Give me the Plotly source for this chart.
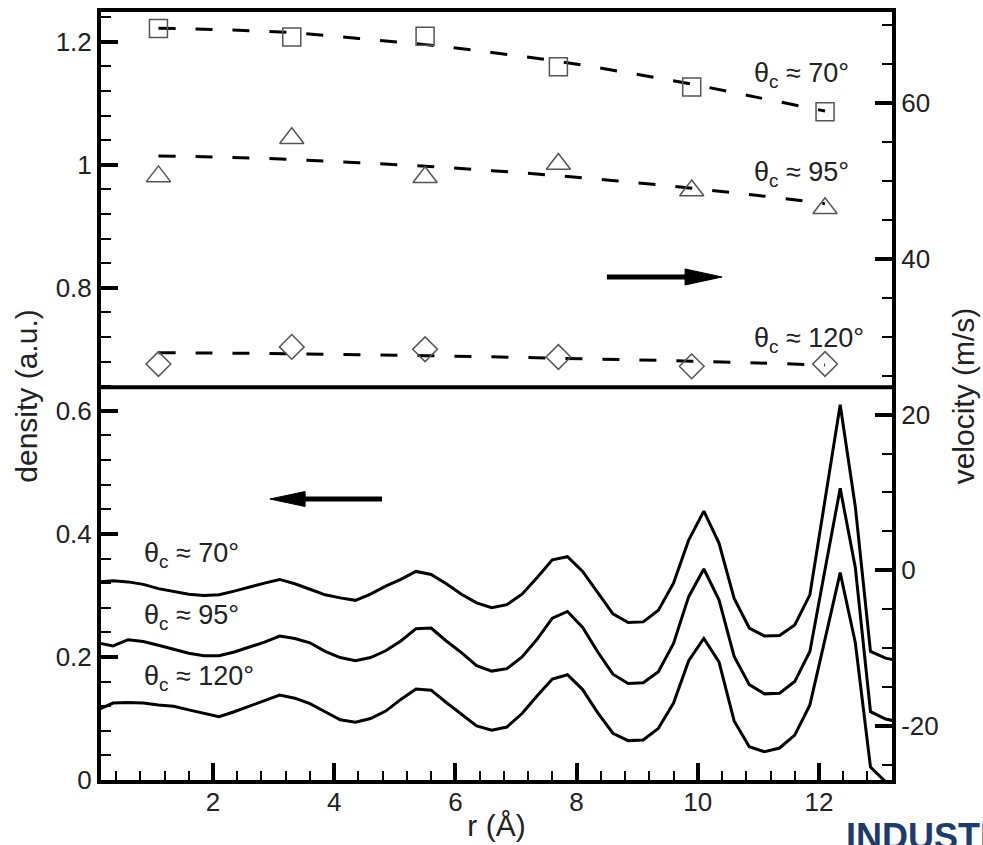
import plotly.graph_objects as go

# ---------------- data ----------------
# lower panel: density profiles vs r (Å)
r_grid = [0.1, 0.35, 0.6, 0.85, 1.1, 1.35, 1.6, 1.85, 2.1, 2.35, 2.6, 2.85, 3.1, 3.35,
          3.6, 3.85, 4.1, 4.35, 4.6, 4.85, 5.1, 5.35, 5.6, 5.85, 6.1, 6.35, 6.6, 6.85,
          7.1, 7.35, 7.6, 7.85, 8.1, 8.35, 8.6, 8.85, 9.1, 9.35, 9.6, 9.85, 10.1, 10.35,
          10.6, 10.85, 11.1, 11.35, 11.6, 11.85, 12.1, 12.35, 12.6, 12.85, 13.1, 13.35]

rho_70 = [0.322, 0.324, 0.322, 0.318, 0.311, 0.306, 0.302, 0.300, 0.301, 0.307, 0.314, 0.320,
          0.326, 0.319, 0.310, 0.301, 0.296, 0.292, 0.302, 0.315, 0.326, 0.339, 0.334, 0.319,
          0.302, 0.288, 0.280, 0.285, 0.302, 0.329, 0.358, 0.363, 0.339, 0.304, 0.270, 0.256,
          0.257, 0.276, 0.320, 0.390, 0.437, 0.385, 0.295, 0.247, 0.234, 0.235, 0.252, 0.301,
          0.455, 0.610, 0.444, 0.209, 0.198, 0.193]

rho_95 = [0.223, 0.218, 0.228, 0.225, 0.219, 0.213, 0.206, 0.202, 0.202, 0.208, 0.216, 0.224,
          0.234, 0.230, 0.223, 0.209, 0.199, 0.194, 0.199, 0.210, 0.226, 0.246, 0.247, 0.226,
          0.207, 0.186, 0.177, 0.181, 0.200, 0.229, 0.263, 0.274, 0.248, 0.208, 0.172, 0.157,
          0.158, 0.176, 0.222, 0.298, 0.343, 0.293, 0.201, 0.155, 0.140, 0.141, 0.160, 0.209,
          0.342, 0.474, 0.345, 0.111, 0.099, 0.094]

rho_120 = [0.114, 0.125, 0.126, 0.125, 0.122, 0.120, 0.114, 0.108, 0.103, 0.111, 0.120, 0.129,
           0.138, 0.133, 0.124, 0.111, 0.098, 0.094, 0.100, 0.112, 0.131, 0.148, 0.146, 0.126,
           0.107, 0.088, 0.081, 0.086, 0.108, 0.137, 0.164, 0.171, 0.147, 0.109, 0.076, 0.064,
           0.065, 0.084, 0.125, 0.194, 0.230, 0.192, 0.096, 0.054, 0.046, 0.052, 0.073, 0.122,
           0.229, 0.337, 0.223, 0.021, -0.003, -0.020]

# upper panel: velocity (m/s) points and dashed fits
r_pts = [1.1, 3.3, 5.5, 7.7, 9.9, 12.1]
vel_70 = [69.6, 68.5, 68.6, 64.7, 62.1, 58.9]
vel_95 = [50.6, 55.5, 50.5, 52.2, 48.8, 46.5]
vel_120 = [26.5, 28.7, 28.4, 27.4, 26.2, 26.5]

r_fit = [1.1, 2.2, 3.3, 4.4, 5.5, 6.6, 7.7, 8.8, 9.9, 11.0, 12.1]
fit_70 = [69.63, 69.43, 69.07, 68.32, 67.53, 66.52, 65.38, 63.97, 62.45, 60.72, 59.0]
fit_95 = [53.22, 53.07, 52.77, 52.35, 51.92, 51.34, 50.68, 49.93, 49.08, 48.15, 47.1]
fit_120 = [27.95, 27.9, 27.8, 27.7, 27.57, 27.42, 27.24, 27.06, 26.87, 26.63, 26.37]

labels = ["θ<sub>c</sub> ≈ 70°", "θ<sub>c</sub> ≈ 95°", "θ<sub>c</sub> ≈ 120°"]
vel_label_y = [63.6, 50.9, 29.6]
rho_label_y = [0.366, 0.265, 0.166]

x_ticks = [2, 4, 6, 8, 10, 12]
rho_ticks = [0, 0.2, 0.4, 0.6, 0.8, 1, 1.2]
vel_ticks = [-20, 0, 20, 40, 60]
vel_ticktext = ["-20", "0", "20", "40", "60"]

# ---------------- style ----------------
FONT = "Liberation Sans, Arial, sans-serif"
TXT = "#222222"
fig = go.Figure()

for y in (rho_70, rho_95, rho_120):
    fig.add_trace(go.Scatter(x=r_grid, y=y, mode="lines", yaxis="y",
                             line=dict(color="black", width=3), showlegend=False,
                             hoverinfo="skip"))

for y in (fit_70, fit_95, fit_120):
    fig.add_trace(go.Scatter(x=r_fit, y=y, mode="lines", yaxis="y2",
                             line=dict(color="black", width=3, dash="17px,20px", shape="spline"),
                             showlegend=False, hoverinfo="skip"))

for y, sym, sz in ((vel_70, "square-open", 18), (vel_95, "triangle-up-open", 21),
                   (vel_120, "diamond-open", 19)):
    fig.add_trace(go.Scatter(x=r_pts, y=y, mode="markers", yaxis="y2",
                             marker=dict(symbol=sym, size=sz, color="#555555",
                                         line=dict(color="#555555", width=1.5)),
                             showlegend=False))

annotations = []
for txt, yv in zip(labels, vel_label_y):
    annotations.append(dict(x=10.89, y=yv, xref="x", yref="y2", text=txt, showarrow=False,
                            xanchor="left", yanchor="middle",
                            font=dict(family=FONT, size=27, color=TXT)))
for txt, yv in zip(labels, rho_label_y):
    annotations.append(dict(x=0.83, y=yv, xref="x", yref="y", text=txt, showarrow=False,
                            xanchor="left", yanchor="middle",
                            font=dict(family=FONT, size=27, color=TXT)))
annotations.append(dict(x=0.939, y=-0.044, xref="paper", yref="paper", text="<b>INDUSTRY</b>",
                        showarrow=False, xanchor="left", yanchor="top",
                        font=dict(family=FONT, size=36, color="#1d3c6e")))

# arrows (decorations)
up = dict(tail=8.50, base=9.79, tip=10.40, y=37.68, half=1.03)
dn = dict(tail=4.79, base=3.52, tip=2.94, y=0.4567, half=0.0122)
shapes = [
    dict(type="line", xref="paper", yref="y", x0=0, x1=1, y0=0.6384, y1=0.6384,
         line=dict(color="black", width=4)),
    dict(type="line", xref="x", yref="y2", x0=up["tail"], x1=up["base"], y0=up["y"], y1=up["y"],
         line=dict(color="black", width=5)),
    dict(type="path", xref="x", yref="y2",
         path=f"M {up['base']},{up['y']-up['half']} L {up['tip']},{up['y']} L {up['base']},{up['y']+up['half']} Z",
         fillcolor="black", line=dict(color="black", width=1)),
    dict(type="line", xref="x", yref="y", x0=dn["tail"], x1=dn["base"], y0=dn["y"], y1=dn["y"],
         line=dict(color="black", width=5)),
    dict(type="path", xref="x", yref="y",
         path=f"M {dn['base']},{dn['y']-dn['half']} L {dn['tip']},{dn['y']} L {dn['base']},{dn['y']+dn['half']} Z",
         fillcolor="black", line=dict(color="black", width=1)),
]

tickfont = dict(family=FONT, size=26, color=TXT)
titlefont = dict(family=FONT, size=30, color=TXT)

fig.update_layout(
    width=983, height=845,
    margin=dict(l=101, r=91, t=12, b=65, autoexpand=False),
    paper_bgcolor="white", plot_bgcolor="white",
    showlegend=False,
    annotations=annotations, shapes=shapes,
    xaxis=dict(range=[0.152, 13.205], tickvals=x_ticks, ticks="inside", ticklen=17, tickwidth=4,
               tickcolor="black", showline=True, linewidth=4, linecolor="black", mirror=True,
               showgrid=False, zeroline=False, tickfont=tickfont, ticklabelstandoff=-4,
               minor=dict(ticks="inside", ticklen=9, tickwidth=1.5, tickcolor="black",
                          tickmode="linear", tick0=0, dtick=0.4, showgrid=False),
               title=dict(text="r (Å)", font=titlefont, standoff=0)),
    yaxis=dict(range=[0, 1.2483], tickvals=rho_ticks, ticks="inside", ticklen=17, tickwidth=4,
               tickcolor="black", showline=True, linewidth=4, linecolor="black",
               showgrid=False, zeroline=False, tickfont=tickfont,
               minor=dict(ticks="inside", ticklen=10, tickwidth=1.5, tickcolor="black",
                          tickmode="linear", tick0=0, dtick=0.04, showgrid=False),
               title=dict(text="density (a.u.)", font=titlefont, standoff=10)),
    yaxis2=dict(range=[-26.94, 71.72], overlaying="y", side="right", tickvals=vel_ticks,
                ticktext=vel_ticktext, ticks="inside", ticklen=17, tickwidth=4,
                tickcolor="black", showline=True, linewidth=4, linecolor="black",
                showgrid=False, zeroline=False, tickfont=tickfont,
                minor=dict(ticks="inside", ticklen=10, tickwidth=1.5, tickcolor="black",
                           tickmode="linear", tick0=0, dtick=5, showgrid=False),
                title=dict(text="velocity (m/s)", font=titlefont, standoff=16)),
)

fig.write_html("out.html")
